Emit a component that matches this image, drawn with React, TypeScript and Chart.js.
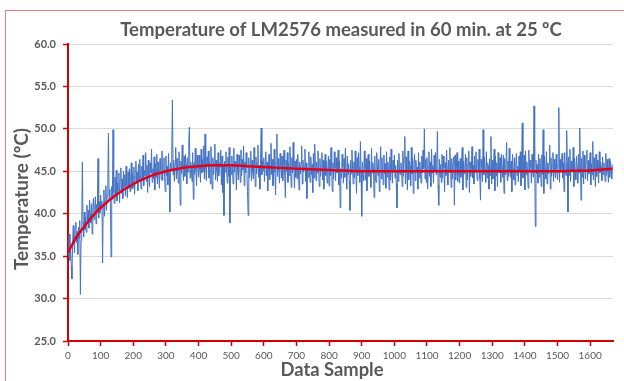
import React, { useEffect, useRef } from 'react';
import { Chart, registerables } from 'chart.js';

Chart.register(...registerables);

const TITLE = 'Temperature of LM2576 measured in 60 min. at 25 ºC';
const Y_TITLE = 'Temperature (ºC)';
const X_TITLE = 'Data Sample';

const SAMPLE_STEP = 2;
const X_MAX = 1670;
const X_TICKS = [0, 100, 200, 300, 400, 500, 600, 700, 800, 900, 1000, 1100, 1200, 1300, 1400, 1500, 1600];
const Y_MIN = 25;
const Y_MAX = 60;
const Y_TICK_STEP = 5;

// measured temperature, one reading every 2 samples
const temperature = [
  35.0, 36.8, 37.6, 34.5, 35.9, 33.8, 32.3, 36.2, 38.6, 37.0, 35.4, 38.3, 39.0, 36.6, 37.9, 35.2, 38.4, 37.1, 39.2, 30.5,
  36.8, 38.5, 46.1, 39.0, 37.3, 40.2, 38.1, 39.6, 37.8, 41.0, 39.2, 40.4, 38.3, 41.6, 40.0, 38.9, 41.2, 37.6, 40.5, 41.8,
  39.3, 40.7, 42.0, 38.8, 41.1, 40.3, 46.5, 39.5, 41.4, 40.1,
  42.2, 40.6, 41.5, 34.2, 41.0, 42.8, 39.7, 41.9, 43.3, 40.4, 42.1, 44.0, 49.5, 41.6, 42.9, 40.8, 34.9, 43.2, 41.7, 49.9,
  42.5, 41.2, 44.3, 42.0, 45.1, 41.5, 43.6, 42.7, 44.8, 41.3, 43.9, 45.4, 42.4, 44.1, 41.8, 45.0, 43.2, 44.6, 42.1, 45.6,
  43.4, 41.9, 44.9, 43.0, 45.3, 42.6, 44.2, 46.0, 42.9, 44.7,
  43.1, 45.5, 42.3, 44.4, 46.2, 43.6, 44.9, 42.7, 45.8, 43.9, 46.4, 44.2, 42.9, 45.6, 44.0, 46.9, 43.3, 45.1, 44.5, 47.2,
  43.8, 45.7, 42.5, 46.3, 44.6, 43.2, 46.0, 44.8, 47.6, 43.7, 45.3, 44.1, 46.7, 42.8, 45.9, 44.3, 47.0, 43.5, 46.1, 44.9,
  43.0, 46.5, 45.2, 44.0, 47.4, 43.9, 45.8, 46.6, 44.4, 42.6,
  46.8, 44.5, 45.6, 43.4, 47.1, 44.8, 40.2, 46.0, 45.2, 47.5, 53.4, 44.6, 46.3, 43.8, 45.9, 47.8, 44.1, 46.5, 45.0, 43.6,
  47.3, 45.5, 41.0, 46.2, 44.7, 48.1, 45.3, 43.9, 46.8, 44.4, 47.0, 45.8, 43.5, 46.6, 44.9, 48.3, 50.2, 44.2, 46.1, 45.4,
  43.8, 47.2, 41.7, 46.0, 44.6, 47.7, 45.1, 43.3, 46.9, 45.6,
  44.3, 46.9, 45.2, 43.7, 47.6, 44.8, 46.4, 45.0, 48.0, 44.1, 49.4, 45.3, 43.9, 46.7, 45.6, 47.4, 44.2, 46.1, 43.5, 47.9,
  45.4, 42.9, 46.6, 44.6, 45.9, 48.2, 44.0, 46.3, 45.1, 43.8, 47.2, 44.5, 46.0, 45.5, 47.5, 43.4, 46.8, 42.5, 45.7, 39.8,
  46.2, 44.9, 47.3, 45.0, 43.6, 46.7, 44.4, 47.8, 38.9, 45.8,
  44.6, 46.8, 45.3, 43.5, 47.7, 44.9, 46.2, 45.6, 42.8, 47.0, 45.1, 44.0, 46.9, 45.8, 43.7, 47.5, 44.5, 46.4, 45.2, 48.0,
  43.3, 46.1, 44.8, 47.2, 45.4, 42.6, 39.8, 46.6, 44.2, 45.9, 47.4, 43.9, 46.3, 45.0, 44.1, 47.8, 45.5, 43.2, 46.7, 44.7,
  46.0, 48.1, 44.3, 45.7, 42.9, 46.5, 50.1, 44.6, 46.2, 45.1,
  46.6, 43.8, 45.9, 47.3, 44.5, 46.1, 42.7, 45.4, 47.0, 44.0, 45.7, 48.3, 44.6, 46.4, 43.3, 45.2, 47.6, 44.9, 42.2, 46.0,
  49.4, 44.4, 46.5, 45.1, 43.6, 47.1, 45.6, 44.2, 46.8, 43.9, 45.8, 47.5, 44.7, 41.9, 46.3, 45.0, 47.2, 43.7, 46.0, 44.5,
  47.9, 45.3, 43.1, 46.6, 44.8, 48.4, 45.5, 43.0, 46.2, 44.3,
  46.4, 44.1, 47.0, 45.2, 42.8, 46.1, 44.7, 45.9, 48.0, 43.5, 46.3, 44.9, 45.6, 47.6, 43.8, 46.0, 41.8, 45.4, 44.3, 47.3,
  45.0, 43.7, 46.7, 44.6, 45.8, 42.5, 47.1, 44.2, 48.2, 45.5, 43.9, 46.1, 44.8, 47.4, 45.3, 43.2, 46.5, 44.4, 45.7, 47.2,
  44.0, 46.3, 42.9, 45.6, 47.0, 44.5, 46.2, 43.6, 45.1, 46.8,
  43.3, 46.4, 44.5, 47.8, 45.0, 42.6, 46.0, 44.1, 47.3, 45.4, 43.9, 46.6, 44.8, 45.7, 47.5, 43.4, 46.2, 40.7, 45.3, 44.2,
  47.0, 45.6, 43.6, 46.5, 44.3, 47.7, 45.1, 42.9, 46.8, 44.6, 45.9, 43.8, 40.4, 46.3, 44.7, 47.5, 45.2, 43.5, 46.1, 44.2,
  47.4, 45.0, 42.4, 46.6, 44.5, 47.2, 45.5, 43.7, 48.5, 44.9,
  39.7, 46.1, 44.6, 43.9, 47.4, 45.3, 44.0, 46.5, 42.7, 45.8, 47.0, 44.4, 46.2, 45.1, 43.1, 47.7, 44.8, 46.0, 45.4, 41.9,
  46.8, 44.2, 43.7, 47.2, 45.6, 44.5, 46.4, 42.6, 45.2, 47.9, 44.1, 46.6, 45.0, 43.4, 46.9, 44.7, 45.9, 43.0, 47.3, 44.3,
  46.1, 45.5, 42.8, 46.7, 44.0, 47.6, 45.2, 43.6, 46.3, 44.9,
  46.9, 44.2, 45.7, 43.5, 40.7, 46.3, 43.8, 47.1, 45.0, 44.6, 46.0, 45.3, 43.2, 47.4, 44.4, 46.6, 49.1, 43.5, 46.7, 45.2,
  42.8, 47.4, 44.0, 46.2, 45.6, 43.3, 47.8, 44.7, 46.5, 42.4, 45.8, 47.0, 43.9, 46.3, 44.9, 45.5, 42.9, 47.2, 44.2, 46.1,
  45.0, 43.6, 46.8, 44.8, 47.5, 45.3, 50.0, 44.1, 46.4, 43.7,
  46.6, 42.9, 45.5, 47.3, 44.4, 46.1, 43.2, 47.6, 44.8, 45.7, 43.6, 46.9, 45.1, 47.2, 44.6, 46.0, 49.7, 43.4, 41.0, 46.4,
  44.3, 45.8, 43.7, 47.0, 44.2, 46.8, 45.4, 42.6, 46.0, 44.5, 47.5, 45.2, 43.4, 46.3, 44.9, 47.8, 45.6, 43.1, 46.5, 44.1,
  45.9, 46.7, 41.0, 46.9, 44.0, 45.3, 47.2, 43.8, 46.2, 44.7,
  43.6, 46.5, 44.3, 45.6, 47.8, 42.8, 46.2, 44.7, 45.4, 47.0, 43.1, 46.6, 44.0, 45.8, 47.4, 42.5, 46.1, 44.4, 45.3, 47.9,
  44.2, 45.7, 43.5, 46.8, 44.9, 47.3, 45.1, 43.9, 46.4, 45.0, 47.6, 44.1, 41.6, 46.4, 45.5, 43.8, 49.9, 44.6, 46.7, 45.2,
  43.7, 47.3, 44.2, 46.0, 45.6, 42.9, 46.5, 44.5, 49.1, 43.5,
  46.3, 44.1, 45.4, 47.6, 42.7, 46.8, 44.5, 46.0, 43.2, 47.2, 45.2, 44.8, 46.6, 43.7, 47.0, 45.5, 44.3, 46.9, 42.4, 46.5,
  44.6, 45.9, 48.4, 43.9, 46.2, 44.4, 47.7, 45.0, 44.3, 46.2, 42.6, 47.0, 45.3, 44.0, 46.6, 43.4, 45.8, 47.1, 44.5, 45.6,
  43.8, 46.8, 44.9, 47.3, 43.3, 46.1, 50.7, 44.2, 45.7, 46.9,
  42.8, 47.4, 44.6, 46.1, 45.2, 43.0, 47.5, 44.9, 46.3, 45.5, 43.6, 47.0, 45.1, 44.3, 52.7, 46.2, 38.5, 46.3, 44.7, 45.8,
  43.6, 47.0, 44.3, 46.5, 45.4, 43.2, 46.9, 44.6, 49.9, 42.4, 46.8, 45.3, 44.1, 47.3, 43.5, 46.0, 44.7, 45.9, 48.1, 42.9,
  46.6, 44.4, 45.7, 47.2, 43.8, 46.4, 45.0, 44.2, 47.0, 45.3,
  44.0, 45.8, 52.5, 43.7, 46.4, 44.9, 45.6, 47.1, 44.2, 46.0, 42.6, 47.2, 45.0, 44.5, 49.8, 46.1, 40.2, 46.7, 44.5, 47.6,
  43.8, 46.2, 45.3, 44.9, 47.8, 43.2, 46.5, 45.1, 44.0, 46.8, 45.5, 43.6, 47.0, 44.8, 50.1, 46.0, 41.6, 46.5, 44.3, 47.4,
  43.5, 46.9, 45.2, 44.1, 46.6, 47.5, 43.9, 46.3, 44.7, 45.8,
  47.2, 43.4, 45.9, 44.6, 48.5, 44.0, 46.6, 45.3, 43.2, 47.0, 44.4, 46.3, 45.1, 43.6, 47.3, 44.8, 46.1, 45.5, 43.9, 46.7,
  44.6, 46.0, 45.2, 43.8, 47.1, 44.5, 46.4, 45.0, 43.7, 46.5, 44.3, 46.2, 45.4, 44.1, 45.8,
];
const sampleIndex = temperature.map((_, i) => i * SAMPLE_STEP);

// smooth trend (red) line
const trendSamples = [0, 25, 50, 75, 100, 150, 200, 250, 300, 350, 400, 450, 500, 550, 600, 700, 800, 900, 1000, 1100, 1200, 1300, 1400, 1500, 1550, 1600, 1640, 1668];
const trendValues = [35.4, 37.2, 38.5, 39.7, 40.7, 42.3, 43.5, 44.4, 45.0, 45.4, 45.6, 45.7, 45.7, 45.6, 45.5, 45.3, 45.15, 45.0, 45.0, 45.0, 45.0, 45.0, 45.0, 45.0, 45.05, 45.1, 45.2, 45.3];

const FONT = 'Lato, "Open Sans", sans-serif';
const TEXT_COLOR = '#595959';
const AXIS_RED = '#D00000';

function fitFont(ctx: CanvasRenderingContext2D, text: string, target: number, base: number) {
  ctx.font = `bold ${base}px ${FONT}`;
  const w = ctx.measureText(text).width;
  const size = (base * target) / w;
  ctx.font = `bold ${size.toFixed(2)}px ${FONT}`;
}

const decorPlugin = {
  id: 'decor',
  beforeDraw(chart: any) {
    const { ctx, width, height } = chart;
    ctx.save();
    ctx.fillStyle = '#ffffff';
    ctx.fillRect(0, 0, width, height);
    ctx.strokeStyle = 'rgba(224, 80, 80, 0.75)';
    ctx.lineWidth = 1;
    ctx.strokeRect(5.5, 10.5, width + 20, height + 20);
    ctx.restore();
  },
  afterDraw(chart: any) {
    const { ctx } = chart;
    ctx.save();
    ctx.fillStyle = TEXT_COLOR;
    ctx.textAlign = 'center';
    ctx.textBaseline = 'middle';
    fitFont(ctx, TITLE, 442, 17);
    ctx.fillText(TITLE, 341, 30);
    fitFont(ctx, X_TITLE, 103, 17);
    ctx.fillText(X_TITLE, 332, 370);
    fitFont(ctx, Y_TITLE, 142, 17);
    ctx.translate(22, 199);
    ctx.rotate(-Math.PI / 2);
    ctx.fillText(Y_TITLE, 0, 0);
    ctx.restore();
  },
};

export default function App() {
  const ref = useRef<HTMLCanvasElement | null>(null);
  useEffect(() => {
    document.body.style.margin = '0';
    const canvas = ref.current;
    if (!canvas) return;
    const chart = new Chart(canvas, {
      type: 'line',
      data: {
        datasets: [
          {
            label: 'Trend',
            data: trendSamples.map((s, i) => ({ x: s, y: trendValues[i] })),
            borderColor: '#E2001A',
            borderWidth: 2.5,
            pointRadius: 0,
            tension: 0.4,
            cubicInterpolationMode: 'monotone',
            order: 0,
          },
          {
            label: 'Temperature',
            data: sampleIndex.map((s, i) => ({ x: s, y: temperature[i] })),
            borderColor: '#4472C4',
            borderWidth: 1,
            pointRadius: 0,
            tension: 0,
            order: 1,
          },
        ],
      },
      options: {
        animation: false,
        responsive: false,
        devicePixelRatio: 1,
        layout: { padding: { top: 44, right: 11, left: 0, bottom: 0 } },
        plugins: { legend: { display: false }, tooltip: { enabled: false }, title: { display: false } },
        scales: {
          x: {
            type: 'linear',
            min: 0,
            max: X_MAX,
            afterBuildTicks: (s: any) => {
              s.ticks = X_TICKS.map((v) => ({ value: v }));
            },
            afterFit: (s: any) => {
              s.height = 40;
            },
            ticks: {
              autoSkip: false,
              maxRotation: 0,
              padding: 4,
              color: TEXT_COLOR,
              font: { family: FONT, size: 10 },
              callback: (v: any) => String(v),
            },
            grid: { drawOnChartArea: false, tickLength: 5, tickColor: AXIS_RED, tickWidth: 1.5 },
            border: { color: AXIS_RED, width: 2 },
          },
          y: {
            min: Y_MIN,
            max: Y_MAX,
            afterFit: (s: any) => {
              s.width = 68;
            },
            ticks: {
              stepSize: Y_TICK_STEP,
              padding: 7,
              color: TEXT_COLOR,
              font: { family: FONT, size: 11, weight: 'bold' },
              callback: (v: any) => Number(v).toFixed(1),
            },
            grid: { color: '#D9D9D9', lineWidth: 1, tickColor: AXIS_RED, tickLength: 5, tickWidth: 1.5 },
            border: { color: AXIS_RED, width: 2 },
          },
        },
      },
      plugins: [decorPlugin],
    } as any);
    return () => chart.destroy();
  }, []);
  return (
    <div style={{ width: 624, height: 381 }}>
      <canvas ref={ref} width={624} height={381} style={{ display: 'block' }} />
    </div>
  );
}
